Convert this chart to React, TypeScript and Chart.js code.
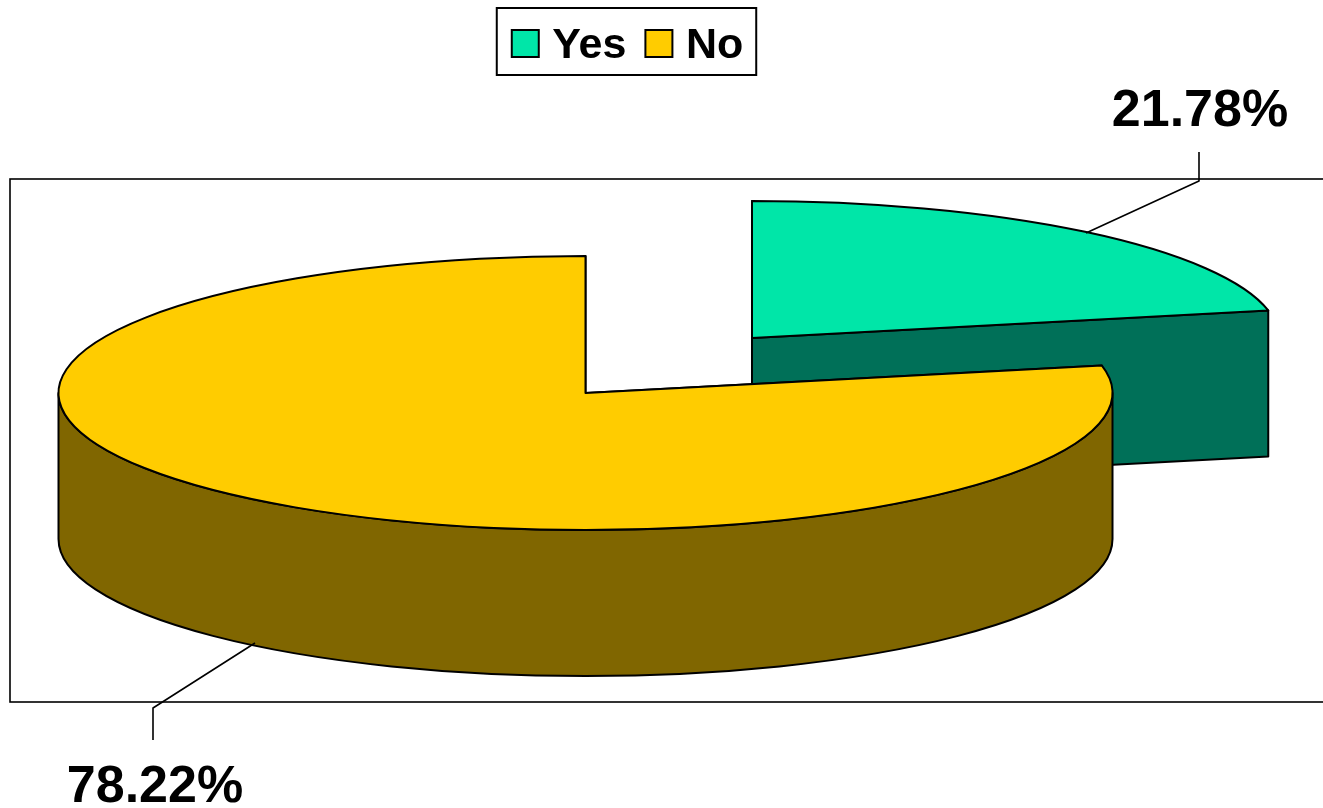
import React, { useEffect, useRef } from "react";
import { Chart, registerables } from "chart.js";

Chart.register(...registerables);

const categories = ["Yes", "No"];
const shares = [21.78, 78.22];
const topColors = ["#00E6A8", "#FFCC00"];
const wallColors = ["#007058", "#806600"];

const FONT = "'Liberation Sans', Arial, sans-serif";
const SQUASH = 0.26;
const DEPTH = 146;
const RADIUS = 527;
const NO_CENTER = { x: 585.5, y: 393 };
const SHIFTS = [{ x: 166.5, y: -55 }, { x: 0, y: 0 }];
const FRAME = { left: 10, top: 179, right: 1340, bottom: 702 };
const LEADERS = [
  { pts: [[1086, 233], [1199, 181], [1199, 152]], label: [1200, 126] },
  { pts: [[255, 643], [153, 708], [153, 740]], label: [155, 802] },
];

function outline(ctx: CanvasRenderingContext2D, draw: () => void, fill?: string) {
  ctx.beginPath();
  draw();
  ctx.closePath();
  if (fill) {
    ctx.fillStyle = fill;
    ctx.fill();
  }
  ctx.lineJoin = "round";
  ctx.strokeStyle = "#000";
  ctx.lineWidth = 2;
  ctx.stroke();
}

const pie3d = {
  id: "pie3d",
  afterDatasetsUpdate(chart: any) {
    const arcs = chart.getDatasetMeta(0).data;
    arcs.forEach((arc: any, i: number) => {
      arc.x = NO_CENTER.x + SHIFTS[i].x;
      arc.y = (NO_CENTER.y + SHIFTS[i].y) / SQUASH;
      arc.outerRadius = RADIUS;
      arc.innerRadius = 0;
    });
  },
  beforeDatasetsDraw(chart: any) {
    const ctx: CanvasRenderingContext2D = chart.ctx;
    ctx.save();
    ctx.strokeStyle = "#000";
    ctx.lineWidth = 1.6;
    ctx.strokeRect(FRAME.left, FRAME.top, FRAME.right - FRAME.left, FRAME.bottom - FRAME.top);

    chart.getDatasetMeta(0).data.forEach((arc: any, i: number) => {
      const cx = arc.x;
      const cy = arc.y * SQUASH;
      const rx = arc.outerRadius;
      const ry = rx * SQUASH;
      const color = wallColors[i];
      [arc.startAngle, arc.endAngle].forEach((a: number) => {
        const ex = cx + Math.cos(a) * rx;
        const ey = cy + Math.sin(a) * ry;
        outline(ctx, () => {
          ctx.moveTo(cx, cy);
          ctx.lineTo(ex, ey);
          ctx.lineTo(ex, ey + DEPTH);
          ctx.lineTo(cx, cy + DEPTH);
        }, color);
      });
      const a = Math.max(arc.startAngle, 0);
      const b = Math.min(arc.endAngle, Math.PI);
      if (b > a) {
        outline(ctx, () => {
          ctx.ellipse(cx, cy, rx, ry, 0, a, b);
          ctx.ellipse(cx, cy + DEPTH, rx, ry, 0, b, a, true);
        }, color);
      }
    });
    ctx.restore();
    ctx.save();
    ctx.scale(1, SQUASH);
  },
  afterDatasetsDraw(chart: any) {
    const ctx: CanvasRenderingContext2D = chart.ctx;
    ctx.restore();
    ctx.save();
    chart.getDatasetMeta(0).data.forEach((arc: any) => {
      outline(ctx, () => {
        ctx.moveTo(arc.x, arc.y * SQUASH);
        ctx.ellipse(arc.x, arc.y * SQUASH, arc.outerRadius, arc.outerRadius * SQUASH, 0, arc.startAngle, arc.endAngle);
      });
    });
    const total = shares.reduce((s, v) => s + v, 0);
    LEADERS.forEach((l, i) => {
      ctx.strokeStyle = "#000";
      ctx.lineWidth = 1.6;
      ctx.beginPath();
      l.pts.forEach((p, k) => (k ? ctx.lineTo(p[0], p[1]) : ctx.moveTo(p[0], p[1])));
      ctx.stroke();
      const text = ((shares[i] / total) * 100).toFixed(2) + "%";
      ctx.fillStyle = "#000";
      ctx.font = `bold 52px ${FONT}`;
      ctx.textAlign = "center";
      ctx.textBaseline = "alphabetic";
      ctx.fillText(text, l.label[0], l.label[1]);
    });
    ctx.restore();
  },
  afterDraw(chart: any) {
    const ctx: CanvasRenderingContext2D = chart.ctx;
    const boxes = chart.legend.legendHitBoxes;
    ctx.save();
    ctx.strokeStyle = "#000";
    ctx.lineWidth = 2;
    const last = boxes[boxes.length - 1];
    const left = boxes[0].left - 15;
    const right = last.left + last.width + 13;
    ctx.strokeRect(left, 8, right - left, 67);
    boxes.forEach((b: any, i: number) => {
      ctx.fillStyle = topColors[i];
      ctx.fillRect(b.left, 30, 27, 27);
      ctx.strokeRect(b.left, 30, 27, 27);
    });
    ctx.restore();
  },
};

export default function App() {
  const ref = useRef<HTMLCanvasElement>(null);
  useEffect(() => {
    const chart = new Chart(ref.current!, {
      type: "pie",
      data: {
        labels: categories,
        datasets: [
          {
            data: shares,
            backgroundColor: topColors,
            borderWidth: 0,
            clip: false,
          } as any,
        ],
      },
      options: {
        responsive: false,
        animation: false,
        rotation: 0,
        layout: { padding: { top: 5.5, right: 68 } },
        plugins: {
          tooltip: { enabled: false },
          legend: {
            position: "top",
            labels: {
              boxWidth: 19,
              boxHeight: 20,
              padding: 19,
              color: "#000",
              font: { family: FONT, size: 43, weight: "bold" },
            },
          },
        },
      },
      plugins: [pie3d],
    });
    return () => chart.destroy();
  }, []);
  return (
    <canvas
      ref={ref}
      width={1323}
      height={808}
      style={{ position: "fixed", left: 0, top: 0, width: 1323, height: 808, background: "#fff" }}
    />
  );
}
